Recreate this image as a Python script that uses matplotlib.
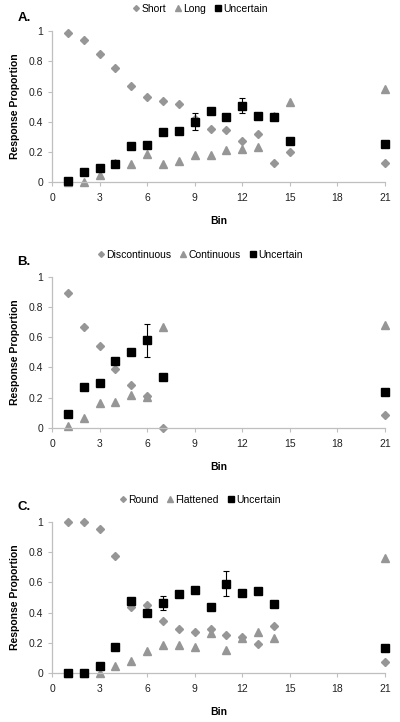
import numpy as np
import matplotlib
matplotlib.use('Agg')
import matplotlib.pyplot as plt

plt.rcParams['font.family'] = ['Liberation Sans', 'DejaVu Sans']

# Panel A: Short / Long
bins_a = [1, 2, 3, 4, 5, 6, 7, 8, 9, 10, 11, 12, 13, 14, 15, 21]
short = [0.99, 0.94, 0.85, 0.755, 0.635, 0.565, 0.54, 0.515, 0.42, 0.35, 0.345, 0.27, 0.32, 0.13, 0.20, 0.13]
long_ = [0.0, 0.0, 0.05, 0.125, 0.12, 0.185, 0.12, 0.14, 0.18, 0.18, 0.215, 0.22, 0.235, 0.44, 0.53, 0.62]
unc_a = [0.01, 0.065, 0.095, 0.12, 0.24, 0.245, 0.335, 0.34, 0.40, 0.47, 0.435, 0.505, 0.44, 0.43, 0.27, 0.25]
err_a = [0, 0, 0, 0, 0, 0, 0, 0, 0.055, 0, 0, 0.05, 0, 0, 0, 0]

# Panel B: Discontinuous / Continuous
bins_b = [1, 2, 3, 4, 5, 6, 7, 21]
disc = [0.895, 0.665, 0.545, 0.39, 0.285, 0.21, 0.0, 0.085]
cont = [0.01, 0.065, 0.165, 0.17, 0.215, 0.205, 0.67, 0.68]
unc_b = [0.095, 0.27, 0.295, 0.445, 0.50, 0.58, 0.335, 0.24]
err_b = [0, 0, 0, 0, 0, 0.11, 0, 0]

# Panel C: Round / Flattened
bins_c = [1, 2, 3, 4, 5, 6, 7, 8, 9, 10, 11, 12, 13, 14, 21]
round_ = [1.0, 1.0, 0.955, 0.775, 0.44, 0.45, 0.345, 0.29, 0.275, 0.295, 0.255, 0.24, 0.19, 0.31, 0.075]
flat = [0.0, 0.0, 0.0, 0.05, 0.08, 0.15, 0.185, 0.185, 0.175, 0.265, 0.155, 0.235, 0.27, 0.23, 0.76]
unc_c = [0.0, 0.0, 0.05, 0.175, 0.48, 0.40, 0.465, 0.525, 0.55, 0.435, 0.59, 0.53, 0.545, 0.46, 0.17]
err_c = [0, 0, 0, 0, 0, 0, 0.045, 0, 0, 0, 0.083, 0, 0, 0, 0]

panels = [
    ('A.', bins_a, short, long_, unc_a, err_a, ['Short', 'Long', 'Uncertain']),
    ('B.', bins_b, disc, cont, unc_b, err_b, ['Discontinuous', 'Continuous', 'Uncertain']),
    ('C.', bins_c, round_, flat, unc_c, err_c, ['Round', 'Flattened', 'Uncertain']),
]

grey = '#969696'
axis_grey = '#BFBFBF'

fig = plt.figure(figsize=(4.0, 7.22), dpi=100)

# axes boxes in figure fractions (left, bottom, width, height)
boxes = [
    (0.13, 0.7475, 0.8325, 0.2095),
    (0.13, 0.4072, 0.8325, 0.2096),
    (0.13, 0.0675, 0.8325, 0.2099),
]
legend_y = [1 - 9 / 722, 1 - 255 / 722, 1 - 500 / 722]
letter_y = [1 - 18 / 722, 1 - 262 / 722, 1 - 507 / 722]

for i, (letter, x, s1, s2, unc, err, names) in enumerate(panels):
    ax = fig.add_axes(boxes[i])
    ax.plot(x, s1, linestyle='none', marker='D', ms=4.2, color=grey,
            markeredgecolor=grey, clip_on=False, label=names[0])
    ax.plot(x, s2, linestyle='none', marker='^', ms=6, color=grey,
            markeredgecolor=grey, clip_on=False, label=names[1])
    ax.plot(x, unc, linestyle='none', marker='s', ms=6.3, color='black',
            clip_on=False, label=names[2], zorder=3)

    # error bars only where they exist
    ex = [xx for xx, e in zip(x, err) if e > 0]
    ey = [yy for yy, e in zip(unc, err) if e > 0]
    ee = [e for e in err if e > 0]
    ax.errorbar(ex, ey, yerr=ee, fmt='none', ecolor='black', elinewidth=0.8,
                capsize=2.2, capthick=0.8, zorder=4, clip_on=False)

    ax.set_xlim(0, 21)
    ax.set_ylim(0, 1)
    ax.set_xticks([0, 3, 6, 9, 12, 15, 18, 21])
    ax.set_yticks([0, 0.2, 0.4, 0.6, 0.8, 1])
    ax.set_yticklabels(['0', '0.2', '0.4', '0.6', '0.8', '1'])

    for side in ['top', 'right']:
        ax.spines[side].set_visible(False)
    for side in ['left', 'bottom']:
        ax.spines[side].set_color(axis_grey)
        ax.spines[side].set_linewidth(0.9)
    ax.tick_params(axis='both', colors=axis_grey, labelcolor='#222222',
                   labelsize=7.5, length=3, width=0.8, direction='out')
    ax.tick_params(axis='x', pad=5)

    ax.set_xlabel('Bin', fontsize=7.5, fontweight='bold', labelpad=9)
    ax.set_ylabel('Response Proportion', fontsize=7.5, fontweight='bold', labelpad=6)

    fig.text(0.043, letter_y[i], letter, fontsize=9.5, fontweight='bold',
             ha='left', va='center')

    leg = ax.legend(loc='center', bbox_to_anchor=(0.5, legend_y[i]),
                    bbox_transform=fig.transFigure, ncol=3, frameon=False,
                    fontsize=7.5, handlelength=0.7, handletextpad=0.15,
                    columnspacing=0.8, borderaxespad=0, markerscale=0.7)

fig.savefig('out.png', dpi=100)
